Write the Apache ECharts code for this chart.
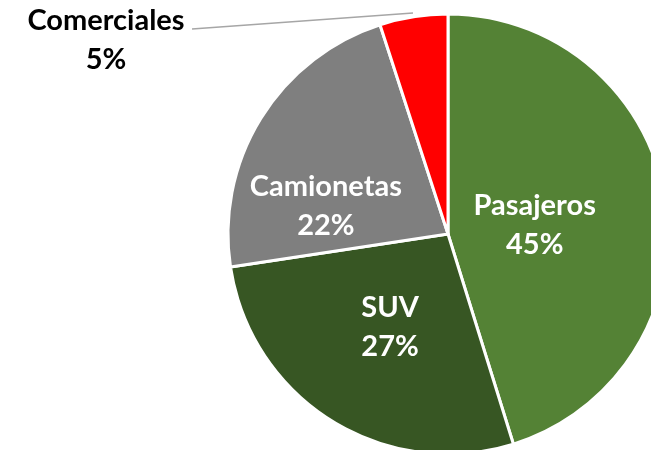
<!DOCTYPE html>
<html>
<head>
<meta charset="utf-8">
<script src="https://cdn.jsdelivr.net/npm/echarts@6/dist/echarts.min.js"></script>
<style>
    html, body {margin: 0; padding: 0; background: #fff;}
    #chart {width: 651px; height: 450px;}
</style>
</head>
<body>
<div id="chart"></div>
<script>
    // categorias y porcentajes
    const categories = ['Pasajeros', 'SUV', 'Camionetas', 'Comerciales'];
    const shares = [45.2, 27.4, 22.4, 5.0];
    const labels = ['45%', '27%', '22%', '5%'];
    const colors = ['#548235', '#375623', '#7f7f7f', '#ff0000'];

    // ajuste de etiquetas interiores (como en Excel)
    const labelShift = [[-25, 8], [2, -3], [-26, 31]];

    let chart = echarts.init(document.getElementById('chart'));

    let pieData = categories.map((name, i) => ({
        name: name,
        value: shares[i],
        itemStyle: {color: colors[i]},
        label: i === 3 ? {
            position: 'outside',
            color: '#000'
        } : {position: 'inner', color: '#fff'},
        labelLine: {show: i === 3}
    }));

    chart.setOption({
        animation: false,
        series: [{
            type: 'pie',
            center: [448, 234],
            radius: 220,
            startAngle: 90,
            clockwise: true,
            data: pieData,
            itemStyle: {borderColor: '#fff', borderWidth: 3},
            label: {
                formatter: (p) => p.name + '\n' + labels[p.dataIndex],
                fontFamily: 'Lato',
                fontWeight: 'bold',
                fontSize: 29,
                lineHeight: 39,
                align: 'center'
            },
            labelLine: {
                lineStyle: {color: '#a6a6a6', width: 1.5},
                length: 10,
                length2: 10
            },
            labelLayout: function (params) {
                if (params.dataIndex === 3) {
                    return {
                        x: 106,
                        y: 40,
                        align: 'center',
                        verticalAlign: 'middle',
                        labelLinePoints: [[413, 13], [192, 29], [192, 29]]
                    };
                }
                let s = labelShift[params.dataIndex];
                return {dx: s[0], dy: s[1]};
            }
        }]
    });
</script>
</body>
</html>
